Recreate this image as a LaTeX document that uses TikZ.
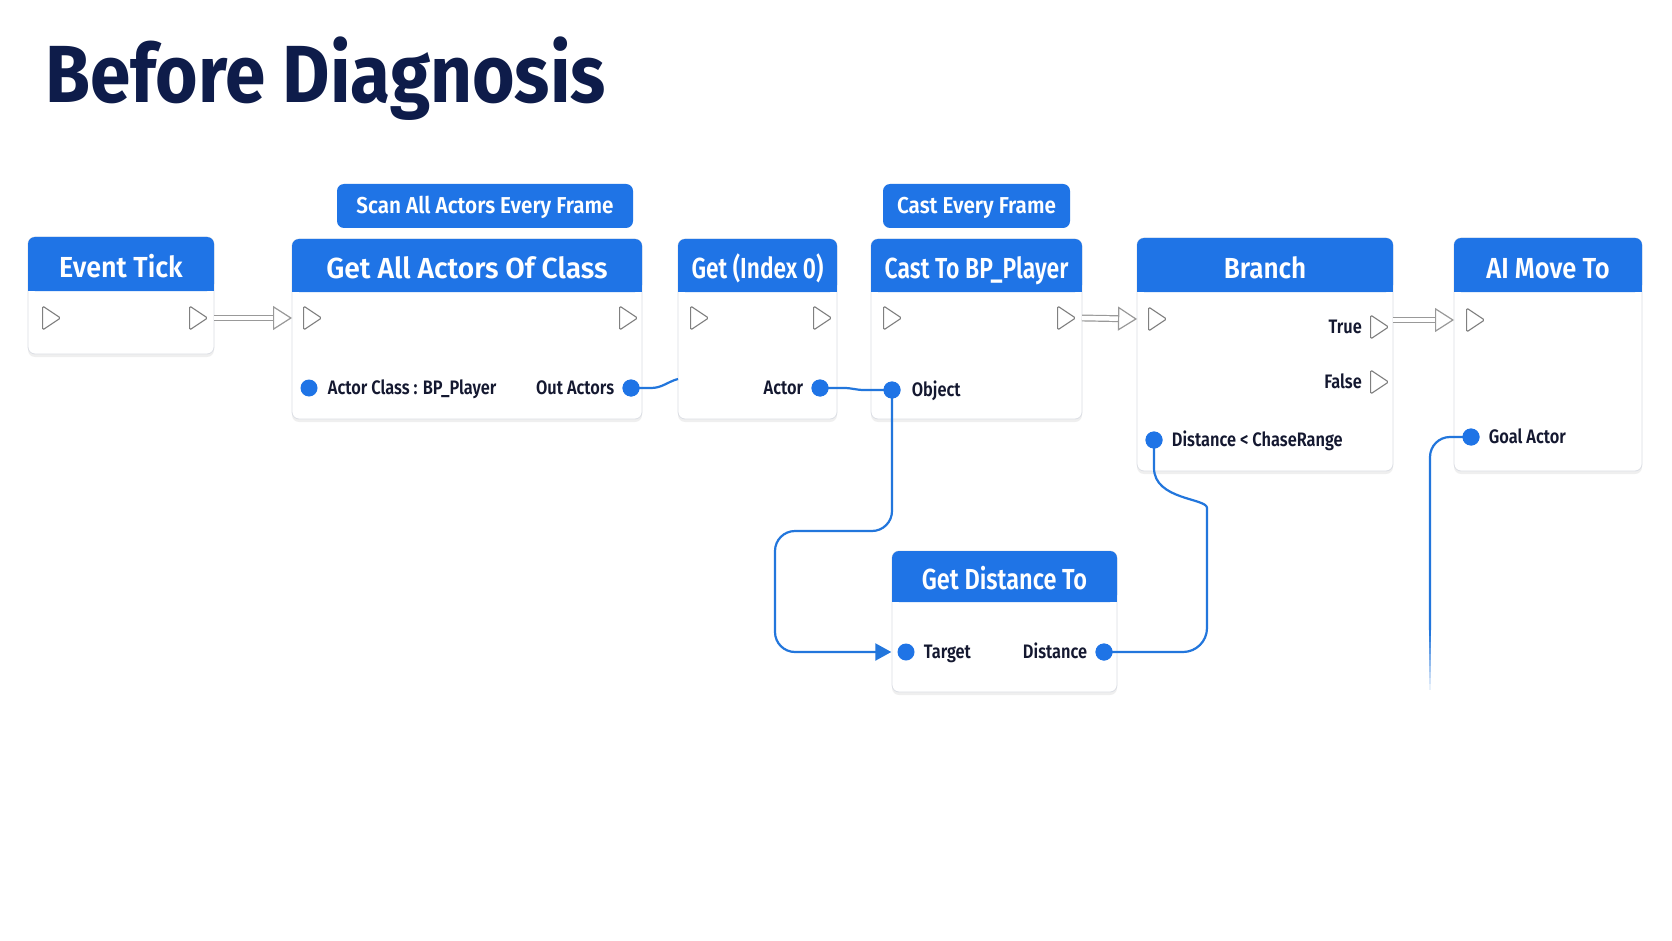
\documentclass[tikz,border=0pt]{standalone}
\usepackage{fontspec}
\setmainfont{Fira Sans}
\newfontfamily\titlefont{Fira Sans}[FakeStretch=0.9]
\newfontfamily\hdrfont{Fira Sans SemiBold}[FakeStretch=0.9]
\newfontfamily\lblfont{Fira Sans SemiBold}[FakeStretch=0.84]
\usetikzlibrary{arrows.meta, positioning, shapes.geometric, shadows}

\definecolor{hdrblue}{HTML}{1F74E6}
\definecolor{titlenavy}{HTML}{0E1C4A}
\definecolor{lbldark}{HTML}{141830}
\definecolor{pingray}{HTML}{808080}
\definecolor{wireblue}{HTML}{2276DC}
\definecolor{edgegray}{HTML}{DCDFE5}

\tikzset{
	body/.style={draw=edgegray, fill=white, rounded corners=7pt, line width=0.8pt,
		anchor=north west, inner sep=0pt, outer sep=0pt,
		drop shadow={opacity=0.12, shadow xshift=0pt, shadow yshift=-3pt}},
	hdrtext/.style={text=white, inner sep=0pt, text height=20pt, text depth=0pt,
		font=\hdrfont\fontsize{29}{30}\selectfont},
	tagbox/.style={fill=hdrblue, rounded corners=7pt, text=white, inner sep=0pt,
		minimum height=44pt, text height=15.7pt, text depth=0pt,
		font=\hdrfont\fontsize{23}{24}\selectfont},
	lbl/.style={text=lbldark, inner sep=0pt, text height=13.5pt, text depth=0pt,
		font=\lblfont\fontsize{19.5}{20}\selectfont},
	execpin/.style={isosceles triangle, isosceles triangle stretches, draw=pingray,
		fill=white, line width=1.1pt, rounded corners=1.5pt, inner sep=0pt,
		minimum height=18pt, minimum width=24pt},
	datapin/.style={circle, fill=hdrblue, inner sep=0pt, minimum size=17pt},
	wire/.style={draw=wireblue, line width=2.2pt},
	execwire/.style={draw=pingray!80, line width=1.2pt, double=white, double distance=4.5pt,
		-{Triangle[open, fill=white, length=19pt, width=24pt, line width=1.2pt]}}
}

% node: [title squeeze] name, x, y, width, height, header height, title
\newcommand{\bpnode}[8][1]{%
	\node[body, minimum width=#5pt, minimum height=#6pt] (#2) at (#3,#4) {};
	\fill[hdrblue, rounded corners=7pt] (#2.north west) rectangle ([yshift=-#7pt]#2.north east);
	\fill[hdrblue] ([yshift=-12pt]#2.north west) rectangle ([yshift=-#7pt]#2.north east);
	\node[hdrtext] (#2-title) at ([yshift=-#7pt/2-3pt]#2.north) {\scalebox{#1}[1]{#8}};
}

\begin{document}
\begin{tikzpicture}[x=1pt, y=-1pt]
	\fill[white] (0,0) rectangle (1672,941);
	\useasboundingbox (0,0) rectangle (1672,941);
	
	\node[anchor=base west, inner sep=0pt, text=titlenavy, font=\titlefont\bfseries\fontsize{81}{84}\selectfont]
		(title) at (45,103) {Before Diagnosis};
	
	\node[tagbox, minimum width=296pt] (tag-scan) at (485,206) {Scan All Actors Every Frame};
	\node[tagbox, minimum width=187pt] (tag-cast) at (976.5,206) {Cast Every Frame};
	
	\bpnode[1.03]{evt}{28}{237}{186}{117}{54}{Event Tick}
	\bpnode[1.08]{ga}{292}{239}{350}{180}{53}{Get All Actors Of Class}
	\bpnode[0.87]{gi}{678}{239}{159}{180}{53}{Get (Index 0)}
	\bpnode[0.88]{cast}{871}{239}{211}{180}{53}{Cast To BP\_Player}
	\bpnode{br}{1137}{238}{256}{233}{54}{Branch}
	\bpnode[0.975]{ai}{1454}{238}{188}{233}{54}{AI Move To}
	\bpnode[0.9]{gd}{892}{551}{225}{141}{51}{Get Distance To}
	
	% exec pins
	\node[execpin] (evt-ein) at (49,318) {};
	\node[execpin] (evt-eout) at (196,318) {};
	\node[execpin] (ga-ein) at (310,318) {};
	\node[execpin] (ga-eout) at (626,318) {};
	\node[execpin] (gi-ein) at (697,318) {};
	\node[execpin] (gi-eout) at (820,318) {};
	\node[execpin] (cast-ein) at (890,318) {};
	\node[execpin] (cast-eout) at (1064,318) {};
	\node[execpin] (br-ein) at (1155,319) {};
	\node[execpin] (br-true) at (1377,327) {};
	\node[execpin] (br-false) at (1377,382) {};
	\node[execpin] (ai-ein) at (1473,320) {};
	
	% data pins
	\node[datapin] (ga-class) at (309,388) {};
	\node[datapin] (ga-actors) at (631,388) {};
	\node[datapin] (gi-actor) at (820,388) {};
	\node[datapin] (cast-object) at (892,390) {};
	\node[datapin] (br-cond) at (1154,440) {};
	\node[datapin] (ai-goal) at (1471,437) {};
	\node[datapin] (gd-target) at (906,652) {};
	\node[datapin] (gd-dist) at (1104,652) {};
	
	% pin labels
	\node[lbl, right=10pt of ga-class] {Actor Class : BP\_Player};
	\node[lbl, left=8pt of ga-actors] {Out Actors};
	\node[lbl, left=8pt of gi-actor] {Actor};
	\node[lbl, right=11pt of cast-object] {Object};
	\node[lbl, left=8pt of br-true] {True};
	\node[lbl, left=8pt of br-false] {False};
	\node[lbl, right=9pt of br-cond] {Distance < ChaseRange};
	\node[lbl, right=9pt of ai-goal] {Goal Actor};
	\node[lbl, right=9pt of gd-target] {Target};
	\node[lbl, left=8pt of gd-dist] {Distance};
	
	% exec flow
	\draw[execwire] (evt.east |- evt-eout) -- (ga.west |- ga-ein);
	\draw[execwire] (cast.east |- cast-eout) -- (br.west |- br-ein);
	\draw[execwire] (br.east |- ai-ein) -- (ai.west |- ai-ein);
	
	% data wires
	\coordinate (gi-dock) at (678,379);
	\coordinate (loop-l) at (775,531);
	\coordinate (dist-r) at (1207,652);
	\coordinate (goal-end) at (1430,630);
	\draw[wire] (ga-actors.center) -- ++(20,0) to[out=0, in=195] (gi-dock);
	\draw[wire] (gi-actor.center) -- ++(24,0) to[out=0, in=180] ([xshift=-28pt]cast-object.center) -- (cast-object.center);
	\draw[wire, rounded corners=20pt, -{Triangle[length=16pt, width=17pt]}, shorten >=6pt]
		(cast-object.center) -- (cast-object |- loop-l) -- (loop-l) -- (loop-l |- gd-target) -- (gd-target.west);
	\draw[wire] (gd-dist.center) [rounded corners=24pt] -- (dist-r) -- (1207,532) [sharp corners]
		.. controls (1207,498) and (1154,500) .. (1154,468) -- (br-cond.center);
	\draw[wire, rounded corners=20pt] (ai-goal.center) -- (goal-end |- ai-goal) -- (goal-end);
	\foreach \k in {0,...,9}
		\draw[wire, line cap=butt, opacity={1-\k/10}] (1430,{630+\k*6}) -- (1430,{636+\k*6});
	
	% redraw pins above wires
	\foreach \p in {ga-actors, gi-actor, cast-object, br-cond, ai-goal, gd-dist}
		\fill[hdrblue] (\p) circle (8.5pt);
\end{tikzpicture}
\end{document}
